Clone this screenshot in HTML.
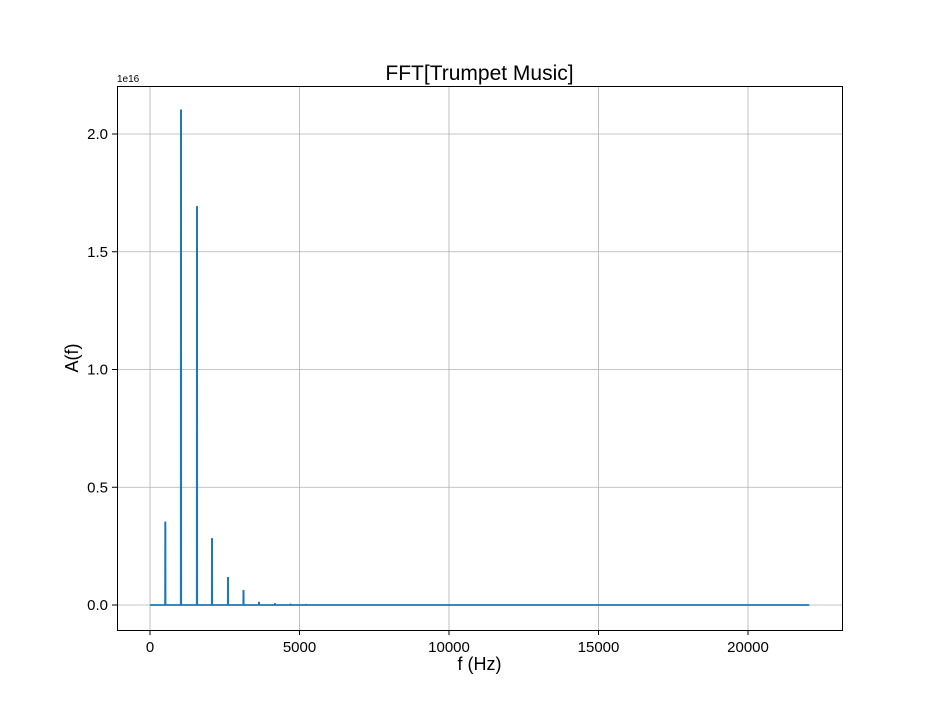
<!DOCTYPE html>
<html><head><meta charset="utf-8"><style>
body{margin:0;background:#fff;}
svg{display:block;font-family:"Liberation Sans","DejaVu Sans",sans-serif;}
</style></head><body>
<svg id="chart" width="936" height="720" viewBox="0 0 936 720">
<rect width="936" height="720" fill="#fff"/>
<g id="grid"></g>
<g id="ticks"></g>
<polyline id="series" fill="none" stroke="#1f77b4" stroke-width="1.8"/>
<rect x="117.5" y="86.5" width="725" height="544" fill="none" stroke="#000" stroke-width="1"/>
<text x="479.5" y="80" font-size="21" text-anchor="middle">FFT[Trumpet Music]</text>
<text x="479.5" y="670" font-size="18" text-anchor="middle">f (Hz)</text>
<text transform="translate(78,358) rotate(-90)" font-size="18" text-anchor="middle">A(f)</text>
<text x="117" y="82" font-size="10">1e16</text>
</svg>
<script>
const xTicks=[0,5000,10000,15000,20000];
const xTickLabels=["0","5000","10000","15000","20000"];
const yTicks=[0,0.5,1.0,1.5,2.0];
const yTickLabels=["0.0","0.5","1.0","1.5","2.0"];
const peakFreqs=[512,1037,1572,2074,2609,3127,3645,4180,4699,5217];
const peakAmps=[0.35,2.1,1.69,0.28,0.115,0.06,0.01,0.004,0.002,0.001];
const fMax=22050;
const ns="http://www.w3.org/2000/svg";
const X=f=>150+f*(748-150)/20000;
const Y=a=>605-a*(605-134)/2.0;
const grid=document.getElementById('grid'),ticks=document.getElementById('ticks');
function mk(tag,attrs,parent){const e=document.createElementNS(ns,tag);for(const k in attrs)e.setAttribute(k,attrs[k]);parent.appendChild(e);return e;}
xTicks.forEach((v,i)=>{const x=X(v);
 const g=mk('line',{x1:x,x2:x,y1:86,y2:630,stroke:'#b0b0b0','stroke-width':0.8},grid);
 
 
 const t=mk('line',{x1:x,x2:x,y1:630,y2:635,stroke:'#000'},ticks);
 
 
 const l=mk('text',{x:x,y:652,'font-size':15,'text-anchor':'middle'},ticks);l.textContent=xTickLabels[i];
 
 
});
yTicks.forEach((v,i)=>{const y=Y(v);
 const g=mk('line',{x1:117,x2:842,y1:y,y2:y,stroke:'#b0b0b0','stroke-width':0.8},grid);
 
 
 const t=mk('line',{x1:112,x2:117,y1:y,y2:y,stroke:'#000'},ticks);
 
 
 const l=mk('text',{x:108,y:y+5,'font-size':15,'text-anchor':'end'},ticks);l.textContent=yTickLabels[i];
 
 
});
let pts=[[X(0),Y(0)]];
peakFreqs.forEach((f,i)=>{pts.push([X(f)-0.2,Y(0)],[X(f)-0.1,Y(peakAmps[i])],[X(f)+0.1,Y(peakAmps[i])],[X(f)+0.2,Y(0)]);});
pts.push([X(fMax),Y(0)]);
document.getElementById('series').setAttribute('points',pts.map(p=>p.join(',')).join(' '));
</script>
</body></html>
